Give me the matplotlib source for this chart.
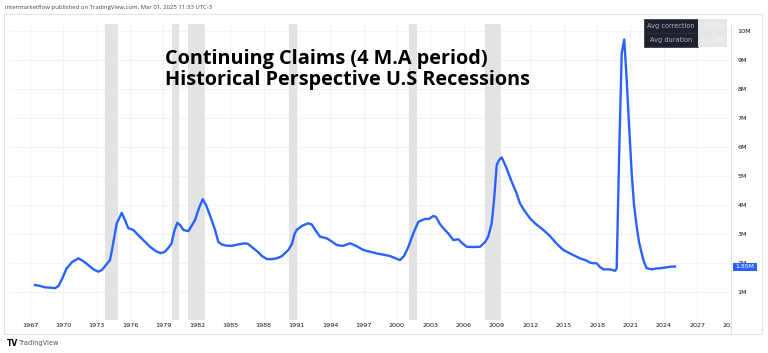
import matplotlib
matplotlib.use('Agg')
import matplotlib.pyplot as plt
from matplotlib.patches import Rectangle

# ---------------- data (decimal year, continuing claims in millions) -------------
years = [1967.45, 1967.90, 1968.35, 1968.80, 1969.25, 1969.56, 1969.88, 1970.30, 1970.78,
         1971.34, 1971.77, 1972.24, 1972.67, 1973.14, 1973.47, 1973.83, 1974.19, 1974.37,
         1974.80, 1975.25, 1975.54, 1975.84, 1976.29, 1976.71, 1977.19, 1977.79, 1978.39,
         1978.78, 1979.14, 1979.50, 1979.74, 1979.95, 1980.25, 1980.49, 1980.79, 1981.24,
         1981.84, 1982.20, 1982.53, 1982.83, 1983.34, 1983.64, 1983.93, 1984.24, 1984.63,
         1985.14, 1985.71, 1986.33, 1986.60, 1987.08, 1987.50, 1987.86, 1988.29, 1988.67,
         1989.19, 1989.66, 1990.23, 1990.56, 1990.79, 1990.98, 1991.46, 1992.03, 1992.33,
         1992.72, 1993.08, 1993.68, 1994.07, 1994.58, 1995.15, 1995.78, 1996.32, 1996.97,
         1997.49, 1998.18, 1998.74, 1999.37, 1999.82, 2000.27, 2000.63, 2000.99, 2001.47,
         2001.92, 2002.52, 2002.88, 2003.27, 2003.51, 2003.87, 2004.17, 2004.59, 2005.07,
         2005.52, 2005.85, 2006.27, 2006.84, 2007.47, 2007.92, 2008.21, 2008.52, 2008.73,
         2008.97, 2009.18, 2009.42, 2009.81, 2010.32, 2010.71, 2011.06, 2011.42, 2011.96,
         2012.50, 2013.16, 2013.76, 2014.30, 2014.96, 2015.56, 2016.46, 2017.00, 2017.37,
         2017.66, 2017.96, 2018.26, 2018.56, 2019.17, 2019.62, 2019.76, 2019.97, 2020.21,
         2020.44, 2020.66, 2020.87, 2021.11, 2021.32, 2021.56, 2021.77, 2022.01, 2022.22,
         2022.46, 2022.91, 2023.29, 2023.65, 2024.10, 2024.55, 2025.00]
claims_m = [1.24, 1.21, 1.16, 1.15, 1.13, 1.21, 1.45, 1.82, 2.03,
            2.16, 2.07, 1.93, 1.79, 1.70, 1.76, 1.93, 2.10, 2.45,
            3.37, 3.73, 3.48, 3.20, 3.14, 2.97, 2.79, 2.56, 2.39,
            2.34, 2.39, 2.55, 2.68, 3.07, 3.39, 3.31, 3.14, 3.10,
            3.48, 3.90, 4.20, 4.00, 3.48, 3.14, 2.73, 2.64, 2.60,
            2.59, 2.64, 2.68, 2.66, 2.51, 2.38, 2.24, 2.14, 2.13,
            2.16, 2.24, 2.45, 2.66, 3.00, 3.14, 3.28, 3.37, 3.33,
            3.10, 2.91, 2.85, 2.76, 2.62, 2.59, 2.68, 2.59, 2.45,
            2.40, 2.33, 2.29, 2.24, 2.17, 2.10, 2.24, 2.52, 3.02,
            3.42, 3.52, 3.52, 3.62, 3.59, 3.34, 3.20, 3.03, 2.79,
            2.82, 2.69, 2.56, 2.55, 2.56, 2.72, 2.91, 3.37, 4.17,
            5.38, 5.55, 5.64, 5.31, 4.80, 4.45, 4.06, 3.83, 3.54,
            3.34, 3.14, 2.93, 2.69, 2.45, 2.33, 2.16, 2.09, 2.01,
            1.99, 1.99, 1.86, 1.78, 1.78, 1.73, 1.82, 5.55, 9.23,
            9.71, 8.31, 6.76, 5.09, 4.00, 3.25, 2.72, 2.33, 2.03,
            1.82, 1.78, 1.81, 1.82, 1.84, 1.87, 1.88]

recession_start = [1973.74, 1979.74, 1981.24, 1990.32, 2001.08, 2007.92]
recession_end = [1974.94, 1980.43, 1982.74, 1990.98, 2001.78, 2009.33]

x_ticks = list(range(1967, 2031, 3))
x_tick_labels = [str(y) for y in x_ticks]
y_ticks = list(range(1, 11))
y_tick_labels = [f"{v}M" for v in y_ticks]

last_label = "1.85M"
title_lines = ["Continuing Claims (4 M.A period)", "Historical Perspective U.S Recessions"]
header = "intermarketflow published on TradingView.com, Mar 01, 2025 11:33 UTC-3"
stat_names = ["Avg correction", "Avg duration"]
stat_values = ["-45.5%", "4.3 5M"]

# ---------------- layout helpers ----------------
W, H = 768, 353
fig = plt.figure(figsize=(W / 100, H / 100), dpi=100)
fig.patch.set_facecolor('white')
fx = lambda px: px / W
fy = lambda py: 1 - py / H

BLUE = '#2962ff'
GRID = '#f0f3fa'
TXT = '#131722'

ax_top, ax_bot = 24, 320
ax = fig.add_axes([fx(10), fy(ax_bot), fx(731) - fx(10), fy(ax_top) - fy(ax_bot)])
ax.set_xlim(1965.20, 2030.04)
ax.set_ylim((321 - ax_bot) / 29, (321 - ax_top) / 29)

for s, e in zip(recession_start, recession_end):
    ax.axvspan(s, e, color='#e3e3e3', lw=0, zorder=1)

ax.plot(years, claims_m, color=BLUE, lw=1.7, zorder=3, solid_joinstyle='round')

ax.set_xticks(x_ticks)
ax.set_xticklabels(x_tick_labels, fontsize=4.6, color=TXT)
ax.yaxis.tick_right()
ax.set_yticks(y_ticks)
ax.set_yticklabels(y_tick_labels, fontsize=4.6, color=TXT)
ax.tick_params(axis='x', length=0, pad=2.5)
ax.tick_params(axis='y', length=0, pad=4.5)
ax.grid(True, color=GRID, lw=0.8, zorder=0)
ax.set_axisbelow(True)
for side in ['top', 'left', 'bottom']:
    ax.spines[side].set_visible(False)
ax.spines['right'].set_color('#e0e3eb')
ax.spines['right'].set_linewidth(0.8)

# outer frame
fig.add_artist(Rectangle((fx(4), fy(334)), fx(762) - fx(4), fy(14) - fy(334),
                         transform=fig.transFigure, fill=False, ec='#e0e3eb', lw=0.8))
# hide right half of 2030 label (price scale area)
fig.add_artist(Rectangle((fx(731.5), fy(333)), fx(761) - fx(731.5), fy(321) - fy(333),
                         transform=fig.transFigure, fc='white', ec='none', zorder=5))
fig.add_artist(plt.Line2D([fx(731), fx(731)], [fy(334), fy(320)], transform=fig.transFigure,
                          color='#e0e3eb', lw=0.8, zorder=6))

# last value label (sits over the 2M scale label, as in the source)
fig.add_artist(Rectangle((fx(733), fy(271)), fx(757) - fx(733), fy(262.5) - fy(271),
                         transform=fig.transFigure, fc=BLUE, ec='none', zorder=6))
fig.text(fx(745), fy(266.8), last_label, fontsize=4.4, color='white', ha='center',
         va='center', zorder=7)

# header
fig.text(fx(5), fy(7), header, fontsize=4.3, color='#444444', ha='left', va='center',
         family='Open Sans')

# title
for line, base in zip(title_lines, [64, 85]):
    fig.text(fx(165), fy(base), line, fontsize=14.3, fontweight='bold', color='black',
             family='Open Sans', ha='left', va='baseline', zorder=8)

# stats box
rows = [(19.3, 33.3), (33.3, 46.7)]
for (t, b), name, val in zip(rows, stat_names, stat_values):
    fig.add_artist(Rectangle((fx(644), fy(b)), fx(698) - fx(644), fy(t) - fy(b),
                             transform=fig.transFigure, fc='#1e222d', ec='#2a2e39', lw=0.5, zorder=8))
    fig.add_artist(Rectangle((fx(698), fy(b)), fx(727) - fx(698), fy(t) - fy(b),
                             transform=fig.transFigure, fc='#e6e6e6', ec='none', zorder=8))
    fig.text(fx(671), fy((t + b) / 2), name, fontsize=4.7, color='#b2b5be', ha='center',
             va='center', zorder=9)
    fig.text(fx(712.5), fy((t + b) / 2), val, fontsize=4.7, color='#f4f4f4', ha='center',
             va='center', zorder=9)

# footer
fig.text(fx(7), fy(343), "TV", fontsize=5.5, fontweight='bold', color='black', ha='left',
         va='center')
fig.text(fx(19), fy(343), "TradingView", fontsize=4.8, color='#555555', ha='left', va='center')

fig.savefig('out.png', dpi=100, facecolor='white')
